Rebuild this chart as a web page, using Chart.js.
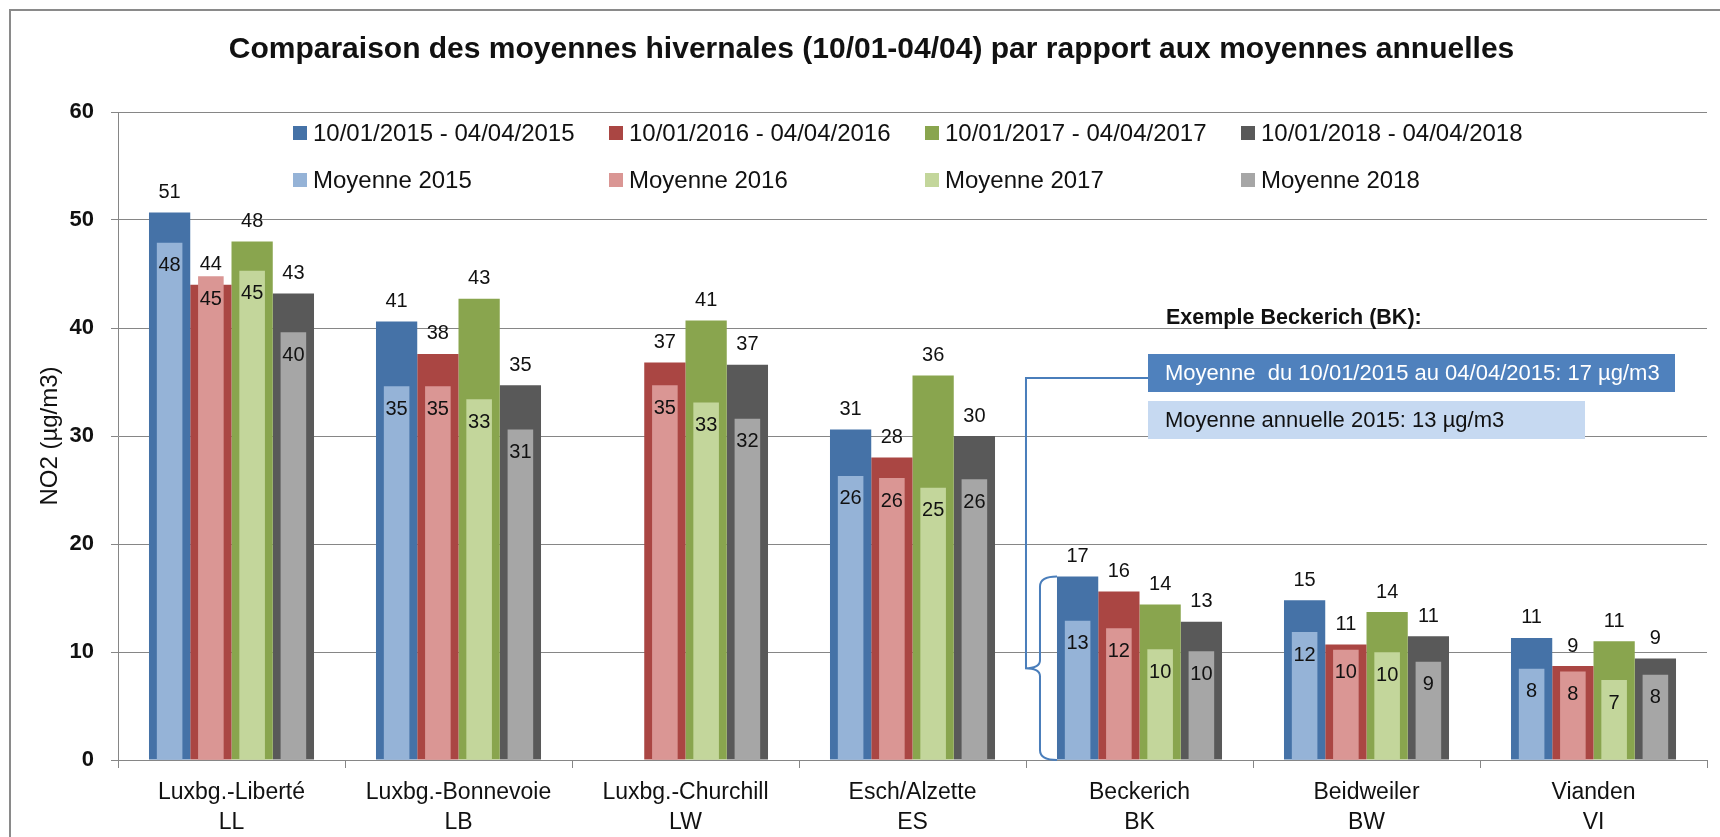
<!DOCTYPE html>
<html lang="fr">
<head>
    <meta charset="UTF-8">
    <title>Comparaison des moyennes hivernales</title>
    <script src="https://cdn.jsdelivr.net/npm/chart.js"></script>
    <style>
        body {
            margin: 0;
            background: #ffffff;
            overflow: hidden;
        }
        .frame {
            position: absolute;
            left: 9px;
            top: 9px;
            width: 1800px;
            height: 900px;
            border: 2px solid #8a8a8a;
        }
        .chart-wrap {
            position: absolute;
            left: 0;
            top: 0;
            width: 1720px;
            height: 837px;
        }
    </style>
</head>
<body>
    <div class="frame"></div>
    <div class="chart-wrap">
        <canvas id="no2Chart"></canvas>
    </div>

    <script>
        // Stations (two-line labels)
        const stations = [
            ['Luxbg.-Liberté', 'LL'],
            ['Luxbg.-Bonnevoie', 'LB'],
            ['Luxbg.-Churchill', 'LW'],
            ['Esch/Alzette', 'ES'],
            ['Beckerich', 'BK'],
            ['Beidweiler', 'BW'],
            ['Vianden', 'VI']
        ];

        // Winter means 10/01 - 04/04
        const winter2015 = [50.7, 40.6, null, 30.6, 17.0, 14.8, 11.3];
        const winter2016 = [44.0, 37.6, 36.8, 28.0, 15.6, 10.7, 8.7];
        const winter2017 = [48.0, 42.7, 40.7, 35.6, 14.4, 13.7, 11.0];
        const winter2018 = [43.2, 34.7, 36.6, 30.0, 12.8, 11.45, 9.4];

        // Annual means
        const annual2015 = [47.9, 34.6, null, 26.3, 12.9, 11.85, 8.45];
        const annual2016 = [44.8, 34.6, 34.7, 26.1, 12.2, 10.2, 8.2];
        const annual2017 = [45.3, 33.4, 33.1, 25.2, 10.25, 9.97, 7.4];
        const annual2018 = [39.6, 30.6, 31.6, 26.0, 10.06, 9.1, 7.9];

        const winterLabels = ['10/01/2015 - 04/04/2015', '10/01/2016 - 04/04/2016', '10/01/2017 - 04/04/2017', '10/01/2018 - 04/04/2018'];
        const annualLabels = ['Moyenne 2015', 'Moyenne 2016', 'Moyenne 2017', 'Moyenne 2018'];

        const winterColors = ['#4572a7', '#aa4643', '#89a54e', '#595959'];
        const annualColors = ['#95b3d7', '#da9694', '#c3d69b', '#a6a6a6'];

        const FONT = "'Liberation Sans', Arial, sans-serif";

        const winterData = [winter2015, winter2016, winter2017, winter2018];
        const annualData = [annual2015, annual2016, annual2017, annual2018];

        // winter and annual bars of the same year share one slot (same stack id),
        // the value axis is not stacked so the annual bar sits inside the winter bar
        const datasets = [];
        winterData.forEach(function(d, i) {
            datasets.push({
                label: winterLabels[i],
                data: d,
                backgroundColor: winterColors[i],
                stack: 'y' + i,
                barPercentage: 1.0,
                categoryPercentage: 0.727,
                order: 1,
                kind: 'winter'
            });
        });
        annualData.forEach(function(d, i) {
            datasets.push({
                label: annualLabels[i],
                data: d,
                backgroundColor: annualColors[i],
                stack: 'y' + i,
                barPercentage: 0.62,
                categoryPercentage: 0.727,
                order: 0,
                kind: 'annual'
            });
        });

        // value labels above winter bars, inside annual bars
        const valueLabels = {
            id: 'valueLabels',
            afterDatasetsDraw(chart) {
                const ctx = chart.ctx;
                ctx.save();
                ctx.font = '20px ' + FONT;
                ctx.fillStyle = '#111';
                ctx.textAlign = 'center';
                ctx.textBaseline = 'middle';
                chart.data.datasets.forEach(function(ds, di) {
                    const meta = chart.getDatasetMeta(di);
                    meta.data.forEach(function(bar, i) {
                        const v = ds.data[i];
                        if (v === null || v === undefined) return;
                        const txt = String(Math.round(v));
                        if (ds.kind === 'winter') {
                            ctx.fillText(txt, bar.x, bar.y - 20);
                        } else {
                            ctx.fillText(txt, bar.x, bar.y + 23);
                        }
                    });
                });
                ctx.restore();
            }
        };

        // two-row legend inside the plot area
        const gridLegend = {
            id: 'gridLegend',
            afterDraw(chart) {
                const ctx = chart.ctx;
                const area = chart.chartArea;
                ctx.save();
                ctx.font = '24px ' + FONT;
                ctx.textBaseline = 'middle';
                ctx.textAlign = 'left';
                for (let i = 0; i < 8; i++) {
                    const col = i % 4;
                    const row = Math.floor(i / 4);
                    const x = area.left + 175 + col * 316;
                    const y = 133 + row * 47;
                    const ds = chart.data.datasets[i];
                    ctx.fillStyle = ds.backgroundColor;
                    ctx.fillRect(x, y - 7, 14, 14);
                    ctx.fillStyle = '#111';
                    ctx.fillText(ds.label, x + 20, y + 1);
                }
                ctx.restore();
            }
        };

        // Beckerich example: brace, connector and text boxes
        const beckerichNote = {
            id: 'beckerichNote',
            afterDraw(chart) {
                const ctx = chart.ctx;
                const yScale = chart.scales.y;
                const bar = chart.getDatasetMeta(0).data[4];
                const barLeft = bar.x - bar.width / 2;
                const top = yScale.getPixelForValue(winter2015[4]);
                const bottom = yScale.getPixelForValue(0);
                const mid = (top + bottom) / 2;
                const bx = barLeft - 17;
                const tipX = barLeft - 32;

                ctx.save();
                ctx.strokeStyle = '#4a7ebb';
                ctx.lineWidth = 2;
                ctx.beginPath();
                ctx.moveTo(barLeft, top);
                ctx.quadraticCurveTo(bx, top, bx, top + 10);
                ctx.lineTo(bx, mid - 8);
                ctx.quadraticCurveTo(bx, mid, tipX, mid);
                ctx.quadraticCurveTo(bx, mid, bx, mid + 8);
                ctx.lineTo(bx, bottom - 10);
                ctx.quadraticCurveTo(bx, bottom, barLeft, bottom);
                ctx.stroke();

                // connector to the text box
                ctx.beginPath();
                ctx.moveTo(tipX + 1, mid);
                ctx.lineTo(tipX + 1, 378);
                ctx.lineTo(1148, 378);
                ctx.stroke();

                // boxes
                ctx.fillStyle = '#4f81bd';
                ctx.fillRect(1148, 354, 527, 38);
                ctx.fillStyle = '#c6d9f1';
                ctx.fillRect(1148, 401, 437, 38);

                ctx.textBaseline = 'middle';
                ctx.textAlign = 'left';
                ctx.font = '22px ' + FONT;
                ctx.fillStyle = '#ffffff';
                ctx.fillText('Moyenne  du 10/01/2015 au 04/04/2015: 17 µg/m3', 1165, 374);
                ctx.fillStyle = '#111';
                ctx.fillText('Moyenne annuelle 2015: 13 µg/m3', 1165, 421);

                ctx.font = 'bold 21.5px ' + FONT;
                ctx.fillText('Exemple Beckerich (BK):', 1166, 318);
                ctx.restore();
            }
        };

        new Chart(document.getElementById('no2Chart'), {
            type: 'bar',
            data: {
                labels: stations,
                datasets: datasets
            },
            options: {
                responsive: true,
                maintainAspectRatio: false,
                animation: false,
                layout: {
                    padding: { left: 36, right: 13, top: 14, bottom: 0 }
                },
                scales: {
                    x: {
                        offset: true,
                        grid: {
                            offset: true,
                            drawOnChartArea: false,
                            drawTicks: true,
                            tickLength: 8,
                            color: '#868686'
                        },
                        border: { color: '#868686', width: 1 },
                        ticks: {
                            color: '#111',
                            padding: 10,
                            maxRotation: 0,
                            autoSkip: false,
                            font: { family: FONT, size: 23, lineHeight: 1.3 }
                        },
                        afterFit(scale) { scale.height = 77; }
                    },
                    y: {
                        min: 0,
                        max: 60,
                        stacked: false,
                        ticks: {
                            stepSize: 10,
                            color: '#111',
                            padding: 17,
                            font: { family: FONT, size: 22, weight: 'bold' }
                        },
                        grid: {
                            color: '#868686',
                            tickLength: 7
                        },
                        border: { color: '#868686', width: 1 },
                        title: {
                            display: true,
                            text: 'NO2 (µg/m3)',
                            color: '#111',
                            padding: { top: 0, bottom: 0 },
                            font: { family: FONT, size: 24 }
                        },
                        afterFit(scale) { scale.width = 82; }
                    }
                },
                plugins: {
                    legend: { display: false },
                    tooltip: { enabled: false },
                    title: {
                        display: true,
                        text: 'Comparaison des moyennes hivernales (10/01-04/04) par rapport aux moyennes annuelles',
                        color: '#111',
                        font: { family: FONT, size: 30, weight: 'bold', lineHeight: 1.2 },
                        padding: { top: 18, bottom: 44 }
                    }
                }
            },
            plugins: [valueLabels, gridLegend, beckerichNote]
        });
    </script>
</body>
</html>
